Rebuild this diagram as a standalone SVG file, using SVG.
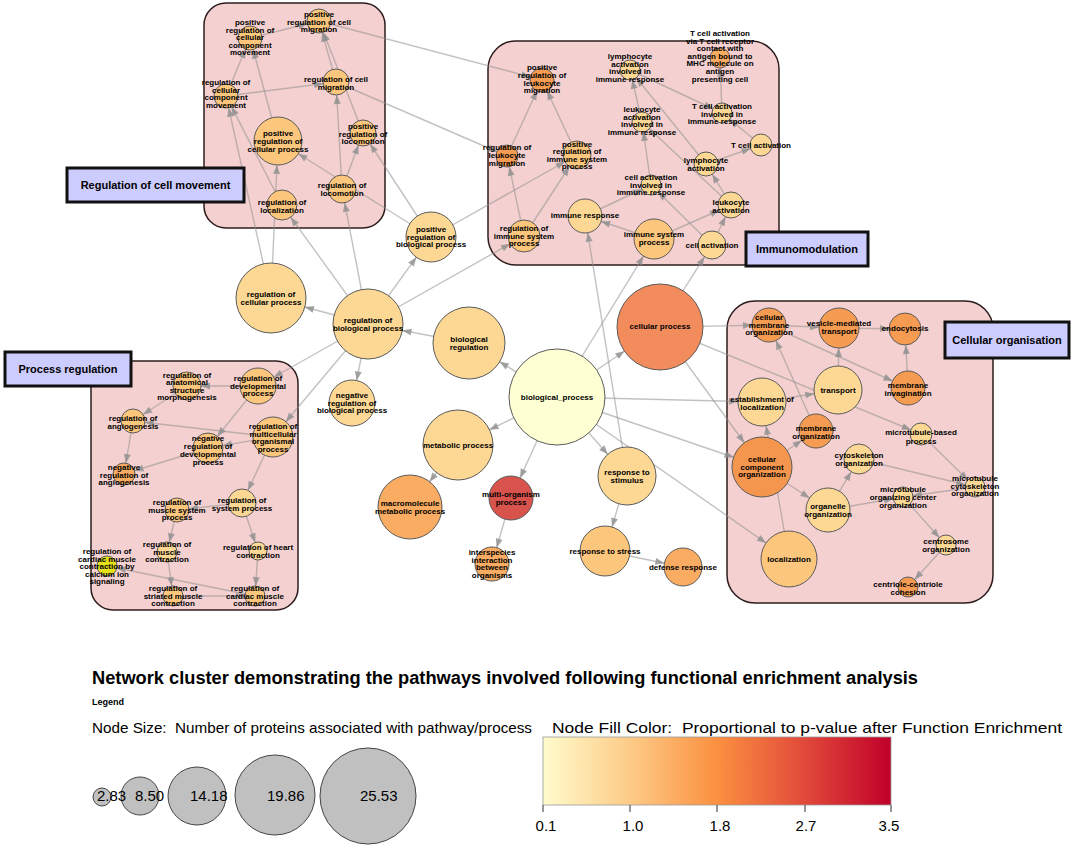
<svg xmlns="http://www.w3.org/2000/svg" width="1074" height="846" viewBox="0 0 1074 846">
<style>
.cl{fill:#f4d0d0;stroke:#2e1c1c;stroke-width:1.5}
.e line{stroke:#8f8f8f;stroke-opacity:.55;stroke-width:1.4}
marker path{fill:#8f8f8f;fill-opacity:.8}
.n circle{stroke:#5a5a5a;stroke-width:1}
.n text{font-family:"Liberation Sans",Arial,sans-serif;font-weight:bold;font-size:8px;text-anchor:middle;fill:#000}
.lb rect{fill:#ccccff;stroke:#111;stroke-width:3}
.lb text{font-family:"Liberation Sans",Arial,sans-serif;font-weight:bold;font-size:11px;text-anchor:middle;fill:#000}
.c0{fill:#ffffd4}.c1{fill:#fdd894}.c2{fill:#fcc67c}.c3{fill:#f9ac62}.c4{fill:#f69c52}.c5{fill:#f5964e}.c6{fill:#f38c5c}.c7{fill:#d8534b}.c8{fill:#e6e11a}
.lg{font-family:"Liberation Sans",Arial,sans-serif;fill:#000}
.lc{fill:#c0c0c0;stroke:#444;stroke-width:1}
</style>
<defs>
<marker id="a9" markerUnits="userSpaceOnUse" markerWidth="9" markerHeight="7" refX="18" refY="0" orient="auto" overflow="visible"><path d="M0,-3.5L9,0L0,3.5z"/></marker>
<marker id="a10" markerUnits="userSpaceOnUse" markerWidth="9" markerHeight="7" refX="19" refY="0" orient="auto" overflow="visible"><path d="M0,-3.5L9,0L0,3.5z"/></marker>
<marker id="a11" markerUnits="userSpaceOnUse" markerWidth="9" markerHeight="7" refX="20" refY="0" orient="auto" overflow="visible"><path d="M0,-3.5L9,0L0,3.5z"/></marker>
<marker id="a12" markerUnits="userSpaceOnUse" markerWidth="9" markerHeight="7" refX="21" refY="0" orient="auto" overflow="visible"><path d="M0,-3.5L9,0L0,3.5z"/></marker>
<marker id="a13" markerUnits="userSpaceOnUse" markerWidth="9" markerHeight="7" refX="22" refY="0" orient="auto" overflow="visible"><path d="M0,-3.5L9,0L0,3.5z"/></marker>
<marker id="a14" markerUnits="userSpaceOnUse" markerWidth="9" markerHeight="7" refX="23" refY="0" orient="auto" overflow="visible"><path d="M0,-3.5L9,0L0,3.5z"/></marker>
<marker id="a15" markerUnits="userSpaceOnUse" markerWidth="9" markerHeight="7" refX="24" refY="0" orient="auto" overflow="visible"><path d="M0,-3.5L9,0L0,3.5z"/></marker>
<marker id="a16" markerUnits="userSpaceOnUse" markerWidth="9" markerHeight="7" refX="25" refY="0" orient="auto" overflow="visible"><path d="M0,-3.5L9,0L0,3.5z"/></marker>
<marker id="a17" markerUnits="userSpaceOnUse" markerWidth="9" markerHeight="7" refX="26" refY="0" orient="auto" overflow="visible"><path d="M0,-3.5L9,0L0,3.5z"/></marker>
<marker id="a18" markerUnits="userSpaceOnUse" markerWidth="9" markerHeight="7" refX="27" refY="0" orient="auto" overflow="visible"><path d="M0,-3.5L9,0L0,3.5z"/></marker>
<marker id="a19" markerUnits="userSpaceOnUse" markerWidth="9" markerHeight="7" refX="28" refY="0" orient="auto" overflow="visible"><path d="M0,-3.5L9,0L0,3.5z"/></marker>
<marker id="a20" markerUnits="userSpaceOnUse" markerWidth="9" markerHeight="7" refX="29" refY="0" orient="auto" overflow="visible"><path d="M0,-3.5L9,0L0,3.5z"/></marker>
<marker id="a22" markerUnits="userSpaceOnUse" markerWidth="9" markerHeight="7" refX="31" refY="0" orient="auto" overflow="visible"><path d="M0,-3.5L9,0L0,3.5z"/></marker>
<marker id="a23" markerUnits="userSpaceOnUse" markerWidth="9" markerHeight="7" refX="32" refY="0" orient="auto" overflow="visible"><path d="M0,-3.5L9,0L0,3.5z"/></marker>
<marker id="a24" markerUnits="userSpaceOnUse" markerWidth="9" markerHeight="7" refX="33" refY="0" orient="auto" overflow="visible"><path d="M0,-3.5L9,0L0,3.5z"/></marker>
<marker id="a25" markerUnits="userSpaceOnUse" markerWidth="9" markerHeight="7" refX="34" refY="0" orient="auto" overflow="visible"><path d="M0,-3.5L9,0L0,3.5z"/></marker>
<marker id="a28" markerUnits="userSpaceOnUse" markerWidth="9" markerHeight="7" refX="37" refY="0" orient="auto" overflow="visible"><path d="M0,-3.5L9,0L0,3.5z"/></marker>
<marker id="a29" markerUnits="userSpaceOnUse" markerWidth="9" markerHeight="7" refX="38" refY="0" orient="auto" overflow="visible"><path d="M0,-3.5L9,0L0,3.5z"/></marker>
<marker id="a30" markerUnits="userSpaceOnUse" markerWidth="9" markerHeight="7" refX="39" refY="0" orient="auto" overflow="visible"><path d="M0,-3.5L9,0L0,3.5z"/></marker>
<marker id="a32" markerUnits="userSpaceOnUse" markerWidth="9" markerHeight="7" refX="41" refY="0" orient="auto" overflow="visible"><path d="M0,-3.5L9,0L0,3.5z"/></marker>
<marker id="a35" markerUnits="userSpaceOnUse" markerWidth="9" markerHeight="7" refX="44" refY="0" orient="auto" overflow="visible"><path d="M0,-3.5L9,0L0,3.5z"/></marker>
<marker id="a36" markerUnits="userSpaceOnUse" markerWidth="9" markerHeight="7" refX="45" refY="0" orient="auto" overflow="visible"><path d="M0,-3.5L9,0L0,3.5z"/></marker>
<marker id="a43" markerUnits="userSpaceOnUse" markerWidth="9" markerHeight="7" refX="52" refY="0" orient="auto" overflow="visible"><path d="M0,-3.5L9,0L0,3.5z"/></marker>
<linearGradient id="pg" x1="0" y1="0" x2="1" y2="0">
<stop offset="0" stop-color="#fffccc"/><stop offset="0.25" stop-color="#fdcb87"/><stop offset="0.5" stop-color="#fb9040"/><stop offset="0.75" stop-color="#e24a3a"/><stop offset="1" stop-color="#c0002a"/>
</linearGradient>
</defs>
<rect width="1074" height="846" fill="#fff"/>
<g id="clusters">
<rect class="cl" x="204" y="3" width="181" height="225" rx="22"/>
<rect class="cl" x="488" y="41" width="291" height="224" rx="28"/>
<rect class="cl" x="91" y="361" width="207" height="249" rx="22"/>
<rect class="cl" x="727" y="301" width="266" height="302" rx="28"/>
</g>
<g id="edges" class="e">
<line x1="226" y1="96" x2="250" y2="38" marker-end="url(#a12)"/>
<line x1="278" y1="141" x2="250" y2="38" marker-end="url(#a12)"/>
<line x1="250" y1="38" x2="319" y2="21" marker-end="url(#a12)"/>
<line x1="226" y1="96" x2="336" y2="82" marker-end="url(#a13)"/>
<line x1="336" y1="82" x2="319" y2="21" marker-end="url(#a12)"/>
<line x1="363" y1="133" x2="319" y2="21" marker-end="url(#a12)"/>
<line x1="342" y1="189" x2="336" y2="82" marker-end="url(#a13)"/>
<line x1="342" y1="189" x2="363" y2="133" marker-end="url(#a13)"/>
<line x1="431" y1="237" x2="278" y2="141" marker-end="url(#a24)"/>
<line x1="431" y1="237" x2="363" y2="133" marker-end="url(#a13)"/>
<line x1="271" y1="298" x2="226" y2="96" marker-end="url(#a12)"/>
<line x1="271" y1="298" x2="278" y2="141" marker-end="url(#a24)"/>
<line x1="368" y1="324" x2="282" y2="205" marker-end="url(#a15)"/>
<line x1="368" y1="324" x2="342" y2="189" marker-end="url(#a14)"/>
<line x1="319" y1="21" x2="542" y2="80" marker-end="url(#a12)"/>
<line x1="336" y1="82" x2="507" y2="156" marker-end="url(#a11)"/>
<line x1="282" y1="205" x2="226" y2="96" marker-end="url(#a12)"/>
<line x1="557" y1="397" x2="469" y2="343" marker-end="url(#a36)"/>
<line x1="469" y1="343" x2="368" y2="324" marker-end="url(#a35)"/>
<line x1="368" y1="324" x2="431" y2="237" marker-end="url(#a25)"/>
<line x1="368" y1="324" x2="352" y2="403" marker-end="url(#a23)"/>
<line x1="368" y1="324" x2="271" y2="298" marker-end="url(#a35)"/>
<line x1="368" y1="324" x2="524" y2="236" marker-end="url(#a16)"/>
<line x1="368" y1="324" x2="258" y2="386" marker-end="url(#a18)"/>
<line x1="368" y1="324" x2="273" y2="437" marker-end="url(#a20)"/>
<line x1="431" y1="237" x2="577" y2="155" marker-end="url(#a14)"/>
<line x1="557" y1="397" x2="660" y2="327" marker-end="url(#a43)"/>
<line x1="557" y1="397" x2="458" y2="445" marker-end="url(#a35)"/>
<line x1="557" y1="397" x2="511" y2="498" marker-end="url(#a22)"/>
<line x1="557" y1="397" x2="627" y2="476" marker-end="url(#a29)"/>
<line x1="557" y1="397" x2="654" y2="239" marker-end="url(#a20)"/>
<line x1="557" y1="397" x2="762" y2="402" marker-end="url(#a24)"/>
<line x1="557" y1="397" x2="762" y2="467" marker-end="url(#a30)"/>
<line x1="557" y1="397" x2="789" y2="559" marker-end="url(#a28)"/>
<line x1="458" y1="445" x2="410" y2="507" marker-end="url(#a32)"/>
<line x1="511" y1="498" x2="492" y2="564" marker-end="url(#a17)"/>
<line x1="627" y1="476" x2="605" y2="551" marker-end="url(#a25)"/>
<line x1="605" y1="551" x2="683" y2="567" marker-end="url(#a19)"/>
<line x1="627" y1="476" x2="585" y2="216" marker-end="url(#a17)"/>
<line x1="660" y1="327" x2="712" y2="245" marker-end="url(#a14)"/>
<line x1="660" y1="327" x2="769" y2="325" marker-end="url(#a17)"/>
<line x1="660" y1="327" x2="921" y2="434" marker-end="url(#a11)"/>
<line x1="660" y1="327" x2="762" y2="467" marker-end="url(#a30)"/>
<line x1="524" y1="236" x2="507" y2="156" marker-end="url(#a11)"/>
<line x1="524" y1="236" x2="577" y2="155" marker-end="url(#a14)"/>
<line x1="507" y1="156" x2="542" y2="80" marker-end="url(#a12)"/>
<line x1="577" y1="155" x2="542" y2="80" marker-end="url(#a12)"/>
<line x1="654" y1="239" x2="585" y2="216" marker-end="url(#a17)"/>
<line x1="585" y1="216" x2="651" y2="185" marker-end="url(#a10)"/>
<line x1="712" y1="245" x2="651" y2="185" marker-end="url(#a10)"/>
<line x1="651" y1="185" x2="642" y2="122" marker-end="url(#a10)"/>
<line x1="642" y1="122" x2="630" y2="70" marker-end="url(#a10)"/>
<line x1="706" y1="164" x2="630" y2="70" marker-end="url(#a10)"/>
<line x1="630" y1="70" x2="722" y2="113" marker-end="url(#a10)"/>
<line x1="761" y1="145" x2="722" y2="113" marker-end="url(#a10)"/>
<line x1="722" y1="113" x2="720" y2="58" marker-end="url(#a10)"/>
<line x1="706" y1="164" x2="761" y2="145" marker-end="url(#a11)"/>
<line x1="731" y1="205" x2="706" y2="164" marker-end="url(#a12)"/>
<line x1="712" y1="245" x2="731" y2="205" marker-end="url(#a13)"/>
<line x1="654" y1="239" x2="731" y2="205" marker-end="url(#a13)"/>
<line x1="731" y1="205" x2="642" y2="122" marker-end="url(#a10)"/>
<line x1="258" y1="386" x2="187" y2="386" marker-end="url(#a14)"/>
<line x1="187" y1="386" x2="133" y2="421" marker-end="url(#a12)"/>
<line x1="258" y1="386" x2="208" y2="448" marker-end="url(#a15)"/>
<line x1="273" y1="437" x2="208" y2="448" marker-end="url(#a15)"/>
<line x1="273" y1="437" x2="133" y2="421" marker-end="url(#a12)"/>
<line x1="133" y1="421" x2="124" y2="474" marker-end="url(#a11)"/>
<line x1="208" y1="448" x2="124" y2="474" marker-end="url(#a11)"/>
<line x1="273" y1="437" x2="242" y2="503" marker-end="url(#a14)"/>
<line x1="242" y1="503" x2="177" y2="510" marker-end="url(#a12)"/>
<line x1="177" y1="510" x2="167" y2="552" marker-end="url(#a10)"/>
<line x1="242" y1="503" x2="258" y2="551" marker-end="url(#a9)"/>
<line x1="258" y1="551" x2="255" y2="596" marker-end="url(#a10)"/>
<line x1="167" y1="552" x2="173" y2="596" marker-end="url(#a10)"/>
<line x1="173" y1="596" x2="255" y2="596" marker-end="url(#a10)"/>
<line x1="255" y1="596" x2="107" y2="566" marker-end="url(#a10)"/>
<line x1="769" y1="325" x2="839" y2="328" marker-end="url(#a20)"/>
<line x1="839" y1="328" x2="905" y2="329" marker-end="url(#a16)"/>
<line x1="838" y1="390" x2="839" y2="328" marker-end="url(#a20)"/>
<line x1="908" y1="388" x2="905" y2="329" marker-end="url(#a16)"/>
<line x1="769" y1="325" x2="908" y2="388" marker-end="url(#a17)"/>
<line x1="762" y1="402" x2="838" y2="390" marker-end="url(#a24)"/>
<line x1="816" y1="431" x2="769" y2="325" marker-end="url(#a17)"/>
<line x1="789" y1="559" x2="762" y2="402" marker-end="url(#a24)"/>
<line x1="762" y1="467" x2="816" y2="431" marker-end="url(#a17)"/>
<line x1="762" y1="467" x2="828" y2="510" marker-end="url(#a22)"/>
<line x1="828" y1="510" x2="859" y2="459" marker-end="url(#a15)"/>
<line x1="859" y1="459" x2="975" y2="487" marker-end="url(#a10)"/>
<line x1="921" y1="434" x2="975" y2="487" marker-end="url(#a10)"/>
<line x1="975" y1="487" x2="903" y2="497" marker-end="url(#a10)"/>
<line x1="828" y1="510" x2="903" y2="497" marker-end="url(#a10)"/>
<line x1="903" y1="497" x2="946" y2="545" marker-end="url(#a10)"/>
<line x1="946" y1="545" x2="908" y2="587" marker-end="url(#a10)"/>
</g>
<g id="nodes">
<g id="pos-reg-cell-comp-mov" class="n"><circle class="c2" cx="250" cy="38" r="12"/><text x="250" y="25"><tspan x="250">positive</tspan><tspan x="250" dy="7.5">regulation of</tspan><tspan x="250" dy="7.5">cellular</tspan><tspan x="250" dy="7.5">component</tspan><tspan x="250" dy="7.5">movement</tspan></text></g>
<g id="pos-reg-cell-mig" class="n"><circle class="c2" cx="319" cy="21" r="12"/><text x="319" y="17"><tspan x="319">positive</tspan><tspan x="319" dy="7.5">regulation of cell</tspan><tspan x="319" dy="7.5">migration</tspan></text></g>
<g id="reg-cell-comp-mov" class="n"><circle class="c2" cx="226" cy="96" r="12"/><text x="226" y="85"><tspan x="226">regulation of</tspan><tspan x="226" dy="7.5">cellular</tspan><tspan x="226" dy="7.5">component</tspan><tspan x="226" dy="7.5">movement</tspan></text></g>
<g id="reg-cell-mig" class="n"><circle class="c2" cx="336" cy="82" r="13"/><text x="336" y="82"><tspan x="336">regulation of cell</tspan><tspan x="336" dy="7.5">migration</tspan></text></g>
<g id="pos-reg-locomotion" class="n"><circle class="c2" cx="363" cy="133" r="13"/><text x="363" y="129"><tspan x="363">positive</tspan><tspan x="363" dy="7.5">regulation of</tspan><tspan x="363" dy="7.5">locomotion</tspan></text></g>
<g id="pos-reg-cell-proc" class="n"><circle class="c2" cx="278" cy="141" r="24"/><text x="278" y="136"><tspan x="278">positive</tspan><tspan x="278" dy="8">regulation of</tspan><tspan x="278" dy="8">cellular process</tspan></text></g>
<g id="reg-locomotion" class="n"><circle class="c2" cx="342" cy="189" r="14"/><text x="342" y="188"><tspan x="342">regulation of</tspan><tspan x="342" dy="8">locomotion</tspan></text></g>
<g id="reg-localization" class="n"><circle class="c2" cx="282" cy="205" r="15"/><text x="282" y="205"><tspan x="282">regulation of</tspan><tspan x="282" dy="7.5">localization</tspan></text></g>
<g id="pos-reg-bio-proc" class="n"><circle class="c1" cx="431" cy="237" r="25"/><text x="431" y="232"><tspan x="431">positive</tspan><tspan x="431" dy="7.7">regulation of</tspan><tspan x="431" dy="7.7">biological process</tspan></text></g>
<g id="reg-cellular-proc" class="n"><circle class="c1" cx="271" cy="298" r="35"/><text x="271" y="297"><tspan x="271">regulation of</tspan><tspan x="271" dy="7.7">cellular process</tspan></text></g>
<g id="reg-bio-proc" class="n"><circle class="c1" cx="368" cy="324" r="35"/><text x="368" y="323"><tspan x="368">regulation of</tspan><tspan x="368" dy="7.7">biological process</tspan></text></g>
<g id="bio-regulation" class="n"><circle class="c1" cx="469" cy="343" r="36"/><text x="469" y="342"><tspan x="469">biological</tspan><tspan x="469" dy="7.7">regulation</tspan></text></g>
<g id="neg-reg-bio-proc" class="n"><circle class="c1" cx="352" cy="403" r="23"/><text x="352" y="398"><tspan x="352">negative</tspan><tspan x="352" dy="7.5">regulation of</tspan><tspan x="352" dy="7.5">biological process</tspan></text></g>
<g id="biological-process" class="n"><circle class="c0" cx="557" cy="397" r="48"/><text x="557" y="400">biological_process</text></g>
<g id="cellular-process" class="n"><circle class="c6" cx="660" cy="327" r="43"/><text x="660" y="329">cellular process</text></g>
<g id="metabolic-process" class="n"><circle class="c1" cx="458" cy="445" r="35"/><text x="458" y="448">metabolic process</text></g>
<g id="macromolecule" class="n"><circle class="c3" cx="410" cy="507" r="32"/><text x="410" y="506"><tspan x="410">macromolecule</tspan><tspan x="410" dy="7.7">metabolic process</tspan></text></g>
<g id="multi-organism" class="n"><circle class="c7" cx="511" cy="498" r="22"/><text x="511" y="497"><tspan x="511">multi-organism</tspan><tspan x="511" dy="7.7">process</tspan></text></g>
<g id="interspecies" class="n"><circle class="c3" cx="492" cy="564" r="17"/><text x="492" y="555"><tspan x="492">interspecies</tspan><tspan x="492" dy="7.5">interaction</tspan><tspan x="492" dy="7.5">between</tspan><tspan x="492" dy="7.5">organisms</tspan></text></g>
<g id="response-stimulus" class="n"><circle class="c1" cx="627" cy="476" r="29"/><text x="627" y="475"><tspan x="627">response to</tspan><tspan x="627" dy="7.5">stimulus</tspan></text></g>
<g id="response-stress" class="n"><circle class="c2" cx="605" cy="551" r="25"/><text x="605" y="554">response to stress</text></g>
<g id="defense-response" class="n"><circle class="c3" cx="683" cy="567" r="19"/><text x="683" y="570">defense response</text></g>
<g id="pos-reg-leuk-mig" class="n"><circle class="c4" cx="542" cy="80" r="12"/><text x="542" y="70"><tspan x="542">positive</tspan><tspan x="542" dy="7.8">regulation of</tspan><tspan x="542" dy="7.8">leukocyte</tspan><tspan x="542" dy="7.8">migration</tspan></text></g>
<g id="lymph-act-involved" class="n"><circle class="c1" cx="630" cy="70" r="10"/><text x="630" y="59"><tspan x="630">lymphocyte</tspan><tspan x="630" dy="7.7">activation</tspan><tspan x="630" dy="7.7">involved in</tspan><tspan x="630" dy="7.7">immune response</tspan></text></g>
<g id="tcell-act-via" class="n"><circle class="c3" cx="720" cy="58" r="10"/><text x="720" y="36"><tspan x="720">T cell activation</tspan><tspan x="720" dy="7.6">via T cell receptor</tspan><tspan x="720" dy="7.6">contact with</tspan><tspan x="720" dy="7.6">antigen bound to</tspan><tspan x="720" dy="7.6">MHC molecule on</tspan><tspan x="720" dy="7.6">antigen</tspan><tspan x="720" dy="7.6">presenting cell</tspan></text></g>
<g id="leuk-act-involved" class="n"><circle class="c1" cx="642" cy="122" r="10"/><text x="642" y="112"><tspan x="642">leukocyte</tspan><tspan x="642" dy="7.7">activation</tspan><tspan x="642" dy="7.7">involved in</tspan><tspan x="642" dy="7.7">immune response</tspan></text></g>
<g id="tcell-act-involved" class="n"><circle class="c1" cx="722" cy="113" r="10"/><text x="722" y="109"><tspan x="722">T cell activation</tspan><tspan x="722" dy="7.7">involved in</tspan><tspan x="722" dy="7.7">immune response</tspan></text></g>
<g id="tcell-activation" class="n"><circle class="c1" cx="761" cy="145" r="11"/><text x="761" y="148">T cell activation</text></g>
<g id="lymph-activation" class="n"><circle class="c1" cx="706" cy="164" r="12"/><text x="706" y="163"><tspan x="706">lymphocyte</tspan><tspan x="706" dy="7.5">activation</tspan></text></g>
<g id="reg-leuk-mig" class="n"><circle class="c4" cx="507" cy="156" r="11"/><text x="507" y="150"><tspan x="507">regulation of</tspan><tspan x="507" dy="7.8">leukocyte</tspan><tspan x="507" dy="7.8">migration</tspan></text></g>
<g id="pos-reg-imm-sys" class="n"><circle class="c2" cx="577" cy="155" r="14"/><text x="577" y="147"><tspan x="577">positive</tspan><tspan x="577" dy="7.4">regulation of</tspan><tspan x="577" dy="7.4">immune system</tspan><tspan x="577" dy="7.4">process</tspan></text></g>
<g id="cell-act-involved" class="n"><circle class="c1" cx="651" cy="185" r="10"/><text x="651" y="180"><tspan x="651">cell activation</tspan><tspan x="651" dy="7.5">involved in</tspan><tspan x="651" dy="7.5">immune response</tspan></text></g>
<g id="leuk-activation" class="n"><circle class="c1" cx="731" cy="205" r="13"/><text x="731" y="205"><tspan x="731">leukocyte</tspan><tspan x="731" dy="7.5">activation</tspan></text></g>
<g id="immune-response" class="n"><circle class="c1" cx="585" cy="216" r="17"/><text x="585" y="218">immune response</text></g>
<g id="reg-imm-sys" class="n"><circle class="c2" cx="524" cy="236" r="16"/><text x="524" y="231"><tspan x="524">regulation of</tspan><tspan x="524" dy="7.5">immune system</tspan><tspan x="524" dy="7.5">process</tspan></text></g>
<g id="immune-sys-proc" class="n"><circle class="c2" cx="654" cy="239" r="20"/><text x="654" y="237"><tspan x="654">immune system</tspan><tspan x="654" dy="8">process</tspan></text></g>
<g id="cell-activation" class="n"><circle class="c1" cx="712" cy="245" r="14"/><text x="712" y="248">cell activation</text></g>
<g id="reg-anat-morph" class="n"><circle class="c2" cx="187" cy="386" r="14"/><text x="187" y="378"><tspan x="187">regulation of</tspan><tspan x="187" dy="7.4">anatomical</tspan><tspan x="187" dy="7.4">structure</tspan><tspan x="187" dy="7.4">morphogenesis</tspan></text></g>
<g id="reg-dev-proc" class="n"><circle class="c2" cx="258" cy="386" r="18"/><text x="258" y="381"><tspan x="258">regulation of</tspan><tspan x="258" dy="7.5">developmental</tspan><tspan x="258" dy="7.5">process</tspan></text></g>
<g id="reg-angiogenesis" class="n"><circle class="c2" cx="133" cy="421" r="12"/><text x="133" y="421"><tspan x="133">regulation of</tspan><tspan x="133" dy="8">angiogenesis</tspan></text></g>
<g id="reg-multicellular" class="n"><circle class="c2" cx="273" cy="437" r="20"/><text x="273" y="429"><tspan x="273">regulation of</tspan><tspan x="273" dy="7.7">multicellular</tspan><tspan x="273" dy="7.7">organismal</tspan><tspan x="273" dy="7.7">process</tspan></text></g>
<g id="neg-reg-dev-proc" class="n"><circle class="c2" cx="208" cy="448" r="15"/><text x="208" y="441"><tspan x="208">negative</tspan><tspan x="208" dy="8">regulation of</tspan><tspan x="208" dy="8">developmental</tspan><tspan x="208" dy="8">process</tspan></text></g>
<g id="neg-reg-angiogenesis" class="n"><circle class="c3" cx="124" cy="474" r="11"/><text x="124" y="470"><tspan x="124">negative</tspan><tspan x="124" dy="7.5">regulation of</tspan><tspan x="124" dy="7.5">angiogenesis</tspan></text></g>
<g id="reg-muscle-sys" class="n"><circle class="c2" cx="177" cy="510" r="12"/><text x="177" y="505"><tspan x="177">regulation of</tspan><tspan x="177" dy="7.5">muscle system</tspan><tspan x="177" dy="7.5">process</tspan></text></g>
<g id="reg-sys-proc" class="n"><circle class="c1" cx="242" cy="503" r="14"/><text x="242" y="503"><tspan x="242">regulation of</tspan><tspan x="242" dy="7.7">system process</tspan></text></g>
<g id="reg-muscle-contr" class="n"><circle class="c1" cx="167" cy="552" r="10"/><text x="167" y="547"><tspan x="167">regulation of</tspan><tspan x="167" dy="7.5">muscle</tspan><tspan x="167" dy="7.5">contraction</tspan></text></g>
<g id="reg-heart-contr" class="n"><circle class="c1" cx="258" cy="551" r="9"/><text x="258" y="550"><tspan x="258">regulation of heart</tspan><tspan x="258" dy="7.5">contraction</tspan></text></g>
<g id="reg-calcium" class="n"><circle class="c8" cx="107" cy="566" r="10"/><text x="107" y="554"><tspan x="107">regulation of</tspan><tspan x="107" dy="7.5">cardiac muscle</tspan><tspan x="107" dy="7.5">contraction by</tspan><tspan x="107" dy="7.5">calcium ion</tspan><tspan x="107" dy="7.5">signaling</tspan></text></g>
<g id="reg-striated" class="n"><circle class="c2" cx="173" cy="596" r="10"/><text x="173" y="591"><tspan x="173">regulation of</tspan><tspan x="173" dy="7.5">striated muscle</tspan><tspan x="173" dy="7.5">contraction</tspan></text></g>
<g id="reg-cardiac" class="n"><circle class="c2" cx="255" cy="596" r="10"/><text x="255" y="591"><tspan x="255">regulation of</tspan><tspan x="255" dy="7.5">cardiac muscle</tspan><tspan x="255" dy="7.5">contraction</tspan></text></g>
<g id="cell-memb-org" class="n"><circle class="c4" cx="769" cy="325" r="17"/><text x="769" y="320"><tspan x="769">cellular</tspan><tspan x="769" dy="7.5">membrane</tspan><tspan x="769" dy="7.5">organization</tspan></text></g>
<g id="vesicle-transport" class="n"><circle class="c4" cx="839" cy="328" r="20"/><text x="839" y="326"><tspan x="839">vesicle-mediated</tspan><tspan x="839" dy="8">transport</tspan></text></g>
<g id="endocytosis" class="n"><circle class="c4" cx="905" cy="329" r="16"/><text x="905" y="331">endocytosis</text></g>
<g id="transport" class="n"><circle class="c1" cx="838" cy="390" r="24"/><text x="838" y="393">transport</text></g>
<g id="memb-invagination" class="n"><circle class="c4" cx="908" cy="388" r="17"/><text x="908" y="388"><tspan x="908">membrane</tspan><tspan x="908" dy="7.5">invagination</tspan></text></g>
<g id="establishment-loc" class="n"><circle class="c1" cx="762" cy="402" r="24"/><text x="762" y="402"><tspan x="762">establishment of</tspan><tspan x="762" dy="8">localization</tspan></text></g>
<g id="memb-org" class="n"><circle class="c4" cx="816" cy="431" r="17"/><text x="816" y="431"><tspan x="816">membrane</tspan><tspan x="816" dy="7.5">organization</tspan></text></g>
<g id="microtubule-based" class="n"><circle class="c1" cx="921" cy="434" r="11"/><text x="921" y="435"><tspan x="921">microtubule-based</tspan><tspan x="921" dy="8.5">process</tspan></text></g>
<g id="cell-comp-org" class="n"><circle class="c5" cx="762" cy="467" r="30"/><text x="762" y="462"><tspan x="762">cellular</tspan><tspan x="762" dy="7.5">component</tspan><tspan x="762" dy="7.5">organization</tspan></text></g>
<g id="cytoskeleton-org" class="n"><circle class="c1" cx="859" cy="459" r="15"/><text x="859" y="458"><tspan x="859">cytoskeleton</tspan><tspan x="859" dy="7.7">organization</tspan></text></g>
<g id="mt-cytoskeleton-org" class="n"><circle class="c1" cx="975" cy="487" r="10"/><text x="975" y="481"><tspan x="975">microtubule</tspan><tspan x="975" dy="7.5">cytoskeleton</tspan><tspan x="975" dy="7.5">organization</tspan></text></g>
<g id="organelle-org" class="n"><circle class="c1" cx="828" cy="510" r="22"/><text x="828" y="509"><tspan x="828">organelle</tspan><tspan x="828" dy="7.5">organization</tspan></text></g>
<g id="mtoc-org" class="n"><circle class="c1" cx="903" cy="497" r="10"/><text x="903" y="492"><tspan x="903">microtubule</tspan><tspan x="903" dy="8">organizing center</tspan><tspan x="903" dy="8">organization</tspan></text></g>
<g id="localization" class="n"><circle class="c2" cx="789" cy="559" r="28"/><text x="789" y="562">localization</text></g>
<g id="centrosome-org" class="n"><circle class="c1" cx="946" cy="545" r="10"/><text x="946" y="544"><tspan x="946">centrosome</tspan><tspan x="946" dy="8">organization</tspan></text></g>
<g id="centriole-cohesion" class="n"><circle class="c4" cx="908" cy="587" r="10"/><text x="908" y="587"><tspan x="908">centriole-centriole</tspan><tspan x="908" dy="8">cohesion</tspan></text></g>
</g>
<g id="cluster-labels" class="lb">
<g id="label-cell-movement"><rect x="67" y="168" width="177" height="34"/><text x="155.5" y="189">Regulation of cell movement</text></g>
<g id="label-immuno"><rect x="746" y="232" width="122" height="34"/><text x="807" y="253">Immunomodulation</text></g>
<g id="label-process"><rect x="5" y="352" width="126" height="34"/><text x="68" y="373">Process regulation</text></g>
<g id="label-cellular-org"><rect x="945" y="322" width="124" height="36"/><text x="1007" y="344">Cellular organisation</text></g>
</g>
<g id="legend">
<text class="lg" x="92" y="684" font-size="18" font-weight="bold" textLength="826" lengthAdjust="spacingAndGlyphs">Network cluster demonstrating the pathways involved following functional enrichment analysis</text>
<text class="lg" x="92" y="705" font-size="9" font-weight="bold">Legend</text>
<text class="lg" x="92" y="733" font-size="15" xml:space="preserve" textLength="440" lengthAdjust="spacingAndGlyphs">Node Size:  Number of proteins associated with pathway/process</text>
<text class="lg" x="552" y="733" font-size="15" xml:space="preserve" textLength="510" lengthAdjust="spacingAndGlyphs">Node Fill Color:  Proportional to p-value after Function Enrichment</text>
<circle class="lc" cx="102" cy="797" r="9"/>
<circle class="lc" cx="140" cy="796" r="19"/>
<circle class="lc" cx="197" cy="796" r="29"/>
<circle class="lc" cx="275" cy="795" r="40"/>
<circle class="lc" cx="368" cy="796" r="48"/>
<text class="lg" font-size="15" x="97" y="801">2.83</text>
<text class="lg" font-size="15" x="135" y="801">8.50</text>
<text class="lg" font-size="15" x="190" y="801">14.18</text>
<text class="lg" font-size="15" x="267" y="801">19.86</text>
<text class="lg" font-size="15" x="360" y="801">25.53</text>
<rect x="543" y="737" width="348" height="68" fill="url(#pg)" stroke="#999" stroke-width="0.8"/>
<g stroke="#333" stroke-width="1">
<line x1="543" y1="805" x2="543" y2="812"/><line x1="630" y1="805" x2="630" y2="812"/><line x1="717" y1="805" x2="717" y2="812"/><line x1="805" y1="805" x2="805" y2="812"/><line x1="891" y1="805" x2="891" y2="812"/>
</g>
<g class="lg" font-size="15" text-anchor="middle">
<text x="546" y="831">0.1</text><text x="633" y="831">1.0</text><text x="720" y="831">1.8</text><text x="806" y="831">2.7</text><text x="889" y="831">3.5</text>
</g>
</g>
</svg>
